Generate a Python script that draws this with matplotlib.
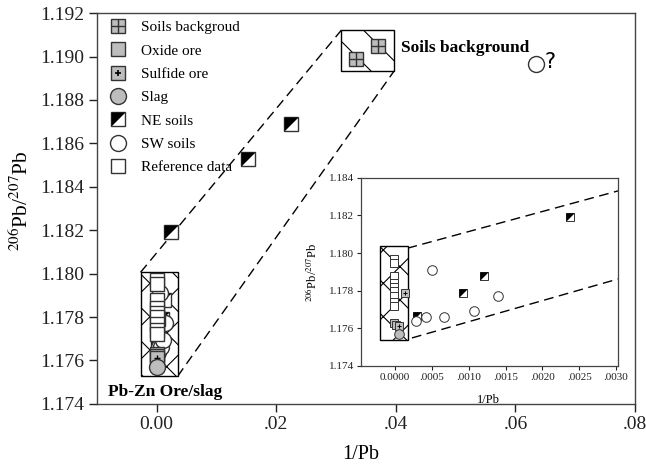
import matplotlib
matplotlib.use('Agg')
import matplotlib.pyplot as plt
from matplotlib.lines import Line2D
from matplotlib.patches import Rectangle
from matplotlib.path import Path
from matplotlib.ticker import FuncFormatter

plt.rcParams['font.family'] = ['Liberation Serif', 'DejaVu Serif']
plt.rcParams['mathtext.fontset'] = 'stix'
plt.rcParams['hatch.linewidth'] = 0.8

# data (1/Pb, 206Pb/207Pb)
soils_bg_x = [0.0333, 0.0370]
soils_bg_y = [1.1899, 1.1905]
oxide_x = [-0.00002, 0.00001]
oxide_y = [1.1763, 1.1762]
sulfide_x = [0.00014, 0.00005]
sulfide_y = [1.1779, 1.1761]
slag_x = [0.00006]
slag_y = [1.1757]
ne_x = [0.00030, 0.00092, 0.00121, 0.00237, 0.0153, 0.0224]
ne_y = [1.17665, 1.1779, 1.1788, 1.1819, 1.1853, 1.1869]
sw_x = [0.00029, 0.00042, 0.00066, 0.00050, 0.00107, 0.00140, 0.0635]
sw_y = [1.1764, 1.17662, 1.17662, 1.17911, 1.17692, 1.17772, 1.18965]
ref_x = [-0.00001] * 9
ref_y = [1.1797, 1.1795, 1.1788, 1.1784, 1.1782, 1.1780, 1.1777, 1.1774, 1.1772]

# boxes and mixing lines
ore_box = (-0.0027, 1.17527, 0.0035, 1.18006)
bg_box = (0.0309, 1.18933, 0.0397, 1.19122)
inset_box = (-0.00021, 1.17537, 0.00017, 1.18039)
inset_upper = ([0.00017, 0.00306], [1.18026, 1.18334])
inset_lower = ([0.00023, 0.00306], [1.17549, 1.17866])

gray = '#bdbdbd'
edge = '#333333'
half_tri = Path([(-1, 1), (1, 1), (-1, -1), (-1, 1)], closed=True)


def draw_points(ax, ms, mew):
    ax.plot(ne_x, ne_y, 's', ms=ms, mfc='white', mec=edge, mew=mew, ls='none', zorder=3)
    ax.plot(ne_x, ne_y, marker=half_tri, ms=ms, mfc='black', mec='black', mew=0, ls='none', zorder=3)
    ax.plot(sw_x, sw_y, 'o', ms=ms * 1.15, mfc='white', mec=edge, mew=mew, ls='none', zorder=4)
    ax.plot(oxide_x, oxide_y, 's', ms=ms, mfc=gray, mec=edge, mew=mew, ls='none', zorder=5)
    ax.plot(sulfide_x, sulfide_y, 's', ms=ms, mfc=gray, mec=edge, mew=mew, ls='none', zorder=5)
    ax.plot(sulfide_x, sulfide_y, '+', ms=ms * 0.5, mec='black', mew=mew, ls='none', zorder=5)
    ax.plot(ref_x, ref_y, 's', ms=ms, mfc='white', mec=edge, mew=mew, ls='none', zorder=6)
    ax.plot(slag_x, slag_y, 'o', ms=ms * 1.15, mfc=gray, mec=edge, mew=mew, ls='none', zorder=7)
    ax.plot(soils_bg_x, soils_bg_y, 's', ms=ms, mfc=gray, mec=edge, mew=mew, ls='none', zorder=6)
    ax.plot(soils_bg_x, soils_bg_y, '+', ms=ms, mec=edge, mew=mew, ls='none', zorder=6)


def hatch_box(ax, box, hatch):
    x0, y0, x1, y1 = box
    ax.add_patch(Rectangle((x0, y0), x1 - x0, y1 - y0, fc='white', ec='black',
                           lw=1.0, hatch=hatch, zorder=2))


fig = plt.figure(figsize=(6.46, 4.68), dpi=100)
ax = fig.add_axes([0.150, 0.137, 0.833, 0.835])

# mixing envelope
ax.plot([ore_box[0], bg_box[0]], [ore_box[3], bg_box[3]], color='black', lw=1.0,
        dashes=(7, 4), zorder=1)
ax.plot([ore_box[2], bg_box[2]], [ore_box[1], bg_box[1]], color='black', lw=1.0,
        dashes=(7, 4), zorder=1)
hatch_box(ax, ore_box, 'x')
hatch_box(ax, bg_box, '\\')
draw_points(ax, 10, 1.0)

ax.text(0.0409, 1.1904, 'Soils background', fontsize=12.5, fontweight='bold', va='center')
ax.text(-0.0082, 1.17455, 'Pb-Zn Ore/slag', fontsize=12.5, fontweight='bold', va='center')
ax.text(0.0648, 1.18975, '?', fontsize=15, family='DejaVu Sans', va='center')

ax.set_xlim(-0.01, 0.08)
ax.set_ylim(1.174, 1.192)
ax.set_xticks([0.0, 0.02, 0.04, 0.06, 0.08])
ax.set_yticks([1.174 + 0.002 * i for i in range(10)])
ax.xaxis.set_major_formatter(FuncFormatter(lambda v, p: '0.00' if abs(v) < 1e-9 else ('%.2f' % v).lstrip('0')))
ax.yaxis.set_major_formatter(FuncFormatter(lambda v, p: '%.3f' % v))
ax.tick_params(direction='out', length=6, width=1.0, labelsize=14, colors='#222222', pad=3)
for s in ax.spines.values():
    s.set_color('#444444')
    s.set_linewidth(1.0)
ax.set_xlabel('1/Pb', fontsize=14.5)
ax.xaxis.set_label_coords(0.49, -0.105)
ax.set_ylabel(r'$^{206}$Pb/$^{207}$Pb', fontsize=15.5)
ax.yaxis.set_label_coords(-0.118, 0.52)

# legend
handles = [
    (Line2D([], [], marker='s', ms=10, mfc=gray, mec=edge, ls='none'),
     Line2D([], [], marker='+', ms=10, mec=edge, ls='none')),
    Line2D([], [], marker='s', ms=10, mfc=gray, mec=edge, ls='none'),
    (Line2D([], [], marker='s', ms=10, mfc=gray, mec=edge, ls='none'),
     Line2D([], [], marker='+', ms=5, mec='black', mew=1.2, ls='none')),
    Line2D([], [], marker='o', ms=11.5, mfc=gray, mec=edge, ls='none'),
    (Line2D([], [], marker='s', ms=10, mfc='white', mec=edge, ls='none'),
     Line2D([], [], marker=half_tri, ms=10, mfc='black', mew=0, ls='none')),
    Line2D([], [], marker='o', ms=11.5, mfc='white', mec=edge, ls='none'),
    Line2D([], [], marker='s', ms=10, mfc='white', mec=edge, ls='none'),
]
labels = ['Soils backgroud', 'Oxide ore', 'Sulfide ore', 'Slag', 'NE soils',
          'SW soils', 'Reference data']
ax.legend(handles, labels, loc='upper left', bbox_to_anchor=(0.0, 1.012), frameon=False,
          fontsize=11, handlelength=1.2, handletextpad=0.9, labelspacing=0.63,
          borderaxespad=0.4)

# inset
axi = fig.add_axes([0.559, 0.218, 0.398, 0.402])
axi.plot(*inset_upper, color='black', lw=1.0, dashes=(7, 4), zorder=1)
axi.plot(*inset_lower, color='black', lw=1.0, dashes=(7, 4), zorder=1)
hatch_box(axi, inset_box, 'x')
draw_points(axi, 6, 0.7)
axi.set_xlim(-0.00046, 0.00303)
axi.set_ylim(1.174, 1.184)
axi.set_xticks([0.0005 * i for i in range(7)])
axi.set_yticks([1.174 + 0.002 * i for i in range(6)])
axi.xaxis.set_major_formatter(FuncFormatter(lambda v, p: '0.0000' if abs(v) < 1e-12 else ('%.4f' % v).lstrip('0')))
axi.yaxis.set_major_formatter(FuncFormatter(lambda v, p: '%.3f' % v))
axi.tick_params(direction='out', length=3, width=0.8, labelsize=8, colors='#222222', pad=2)
for s in axi.spines.values():
    s.set_color('#444444')
    s.set_linewidth(0.9)
axi.set_xlabel('1/Pb', fontsize=9)
axi.xaxis.set_label_coords(0.494, -0.15)
axi.set_ylabel(r'$^{206}$Pb/$^{207}$Pb', fontsize=9)
axi.yaxis.set_label_coords(-0.16, 0.5)

fig.savefig('out.png', dpi=100)
